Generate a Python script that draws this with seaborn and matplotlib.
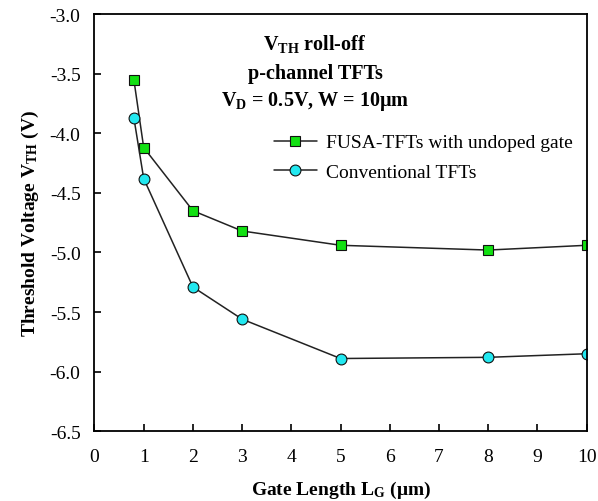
import pandas as pd
import matplotlib
matplotlib.use('Agg')
import matplotlib.pyplot as plt
import seaborn as sns

# gate lengths (um) and threshold voltages (V)
gate_length = [0.8, 1, 2, 3, 5, 8, 10]
vth_fusa = [-3.55, -4.12, -4.65, -4.82, -4.94, -4.98, -4.94]
vth_conv = [-3.87, -4.38, -5.29, -5.56, -5.89, -5.88, -5.85]
labels = ['FUSA-TFTs with undoped gate', 'Conventional TFTs']
x_ticks = list(range(0, 11))
y_ticks = [-3.0, -3.5, -4.0, -4.5, -5.0, -5.5, -6.0, -6.5]

df_fusa = pd.DataFrame({'Lg': gate_length, 'Vth': vth_fusa})
df_conv = pd.DataFrame({'Lg': gate_length, 'Vth': vth_conv})

sns.set_style('ticks')
plt.rcParams['font.family'] = ['Liberation Serif', 'DejaVu Serif']
plt.rcParams['text.color'] = 'black'
plt.rcParams['axes.labelcolor'] = 'black'
plt.rcParams['mathtext.fontset'] = 'custom'
plt.rcParams['mathtext.rm'] = 'Liberation Serif'
plt.rcParams['mathtext.bf'] = 'Liberation Serif:bold'
plt.rcParams['mathtext.it'] = 'Liberation Serif:italic'
plt.rcParams['mathtext.default'] = 'bf'

fig = plt.figure(figsize=(5.98, 5.02), dpi=100)
ax = fig.add_axes([0.158, 0.139, 0.823, 0.831])

sns.lineplot(data=df_fusa, x='Lg', y='Vth', ax=ax, color='#222222', lw=1.1,
             marker='s', markersize=7.8, markerfacecolor='#12e012',
             markeredgecolor='#111111', markeredgewidth=0.8, label=labels[0])
sns.lineplot(data=df_conv, x='Lg', y='Vth', ax=ax, color='#222222', lw=1.1,
             marker='o', markersize=7.8, markerfacecolor='#22e8f0',
             markeredgecolor='#111111', markeredgewidth=0.8, label=labels[1])

ax.set_xlim(0, 10)
ax.set_ylim(-6.5, -3.0)
ax.set_xticks(x_ticks)
ax.set_yticks(y_ticks)
ax.set_yticklabels([f'{v:.1f}' for v in y_ticks])
ax.tick_params(direction='in', length=5, width=1.2, labelsize=14,
               top=False, right=False, colors='black')
ax.tick_params(axis='x', pad=12)
ax.tick_params(axis='y', pad=10)
for s in ax.spines.values():
    s.set_linewidth(1.3)
    s.set_color('black')

ax.set_xlabel('Gate Length L$_G$ (μm)', fontsize=14, fontweight='bold', labelpad=10)
ax.set_ylabel('Threshold Voltage V$_{TH}$ (V)', fontsize=14, fontweight='bold', labelpad=6)

# annotation block
ax.text(0.448, 0.931, 'V$_{TH}$ roll-off', transform=ax.transAxes, ha='center',
        va='center', fontsize=14.5, fontweight='bold')
ax.text(0.448, 0.858, 'p-channel TFTs', transform=ax.transAxes, ha='center',
        va='center', fontsize=14.5, fontweight='bold')
ax.text(0.448, 0.793, 'V$_D$ = 0.5V, W = 10μm', transform=ax.transAxes, ha='center',
        va='center', fontsize=14.5, fontweight='bold')

ax.legend(loc='upper left', bbox_to_anchor=(0.329, 0.755), frameon=False,
          fontsize=14, handlelength=2.2, handletextpad=0.5, labelspacing=0.62)

fig.savefig('out.png', dpi=100)
